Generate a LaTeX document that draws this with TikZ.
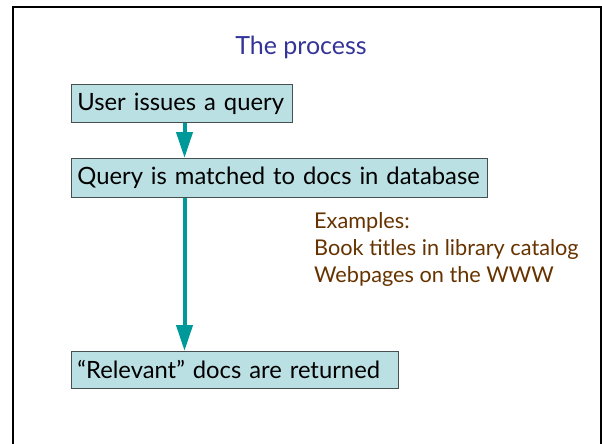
\documentclass[tikz,border=0pt]{standalone}
\usepackage{fontspec}
\setmainfont{Lato}
\usetikzlibrary{arrows.meta,positioning}
\definecolor{boxfill}{RGB}{187,224,227}
\definecolor{boxline}{RGB}{70,80,80}
\definecolor{teal arrow}{RGB}{0,153,153}
\definecolor{titleblue}{RGB}{51,51,153}
\definecolor{notebrown}{RGB}{102,51,0}
\tikzset{
>={Triangle[width=16pt,length=26pt]},
step box/.style={rectangle,draw=boxline,fill=boxfill,line width=0.8pt,inner xsep=6pt,inner ysep=0pt,
  anchor=north west,align=left,font=\fontsize{23.8}{28}\selectfont},
flusso/.style={->,color=teal arrow,line width=4pt}}

\begin{document}
\begin{tikzpicture}[x=1pt,y=-1pt]
\useasboundingbox (0,0) rectangle (602,444);
\draw[line width=2pt] (13,446) -- (13,7) -- (600.5,7) -- (600.5,446);

\node[text=titleblue,font=\fontsize{25}{30}\selectfont] (title) at (301,47) {The process};

\node[step box,minimum width=221pt,minimum height=38pt,text width=209pt] (query) at (71,84) {User issues a query};
\node[step box,minimum width=416pt,minimum height=39pt,text width=404pt] (match) at (71,158) {Query is matched to docs in database};
\node[step box,minimum width=327pt,minimum height=37pt,text width=315pt] (returned) at (71,351) {``Relevant'' docs are returned};

\node[text=notebrown,anchor=north west,align=left,inner sep=0pt,font=\fontsize{21.7}{27}\selectfont] (examples) at (314,212)
  {Examples:\\Book titles in library catalog\\Webpages on the WWW};

\coordinate (asse) at (184.5,0);
\draw[flusso] (query.south -| asse) -- (match.north -| asse);
\draw[flusso] (match.south -| asse) -- (returned.north -| asse);
\end{tikzpicture}
\end{document}
